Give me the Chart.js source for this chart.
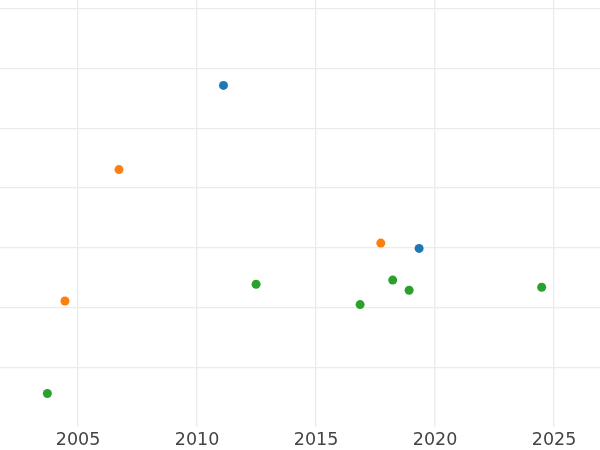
<!DOCTYPE html>
<html>
<head>
<meta charset="utf-8">
<script src="https://cdn.jsdelivr.net/npm/chart.js@4/dist/chart.umd.min.js"></script>
<style>
  html, body { margin: 0; padding: 0; background: #fff; }
  canvas { display: block; }
</style>
</head>
<body>
<canvas id="scatter" width="600" height="450"></canvas>
<script>
'use strict';

// data (x = year, y = arbitrary units, gridline = 1)
var blueX = [2011.11, 2019.33];
var blueY = [5.72, 2.99];
var orangeX = [2006.72, 2004.45, 2017.72];
var orangeY = [4.31, 2.11, 3.08];
var greenX = [2003.71, 2012.48, 2016.85, 2018.22, 2018.91, 2024.48];
var greenY = [0.56, 2.39, 2.05, 2.46, 2.29, 2.34];

var xTicks = [2005, 2010, 2015, 2020, 2025];
var yTicks = [1, 2, 3, 4, 5, 6, 7];

function points(xs, ys) {
	return xs.map(function (x, i) { return { x: x, y: ys[i] }; });
}

function series(xs, ys, color) {
	return {
		data: points(xs, ys),
		backgroundColor: color,
		borderWidth: 0,
		pointRadius: 4.5,
		pointHoverRadius: 4.5
	};
}

var gridColor = '#ebebeb';

var ctx = document.getElementById('scatter');

var chart = new Chart(ctx, {
	type: 'scatter',
	data: {
		datasets: [
			series(blueX, blueY, '#1f77b4'),
			series(orangeX, orangeY, '#ff7f0e'),
			series(greenX, greenY, '#2ca02c')
		]
	},
	options: {
		responsive: false,
		animation: false,
		// labels sit a little below the middle of the axis band, hence the negative bottom
		layout: { padding: { top: 0, left: 0, right: 0, bottom: -3 }, autoPadding: false },
		plugins: {
			legend: { display: false },
			tooltip: { enabled: false }
		},
		scales: {
			x: {
				type: 'linear',
				min: 2001.72,
				max: 2026.93,
				afterBuildTicks: function (scale) {
					scale.ticks = xTicks.map(function (v) { return { value: v }; });
				},
				border: { display: false },
				grid: { color: gridColor, lineWidth: 1.3, drawTicks: false },
				ticks: {
					padding: 4.25,
					color: '#444',
					font: { family: 'DejaVu Sans', size: 17.5, lineHeight: 1.0 },
					callback: function (v) { return String(v); }
				}
			},
			y: {
				type: 'linear',
				min: 0,
				max: 7.15,
				afterBuildTicks: function (scale) {
					scale.ticks = yTicks.map(function (v) { return { value: v }; });
				},
				border: { display: false },
				grid: { color: gridColor, lineWidth: 1.3, drawTicks: false },
				ticks: { display: false }
			}
		}
	}
});
</script>
</body>
</html>
